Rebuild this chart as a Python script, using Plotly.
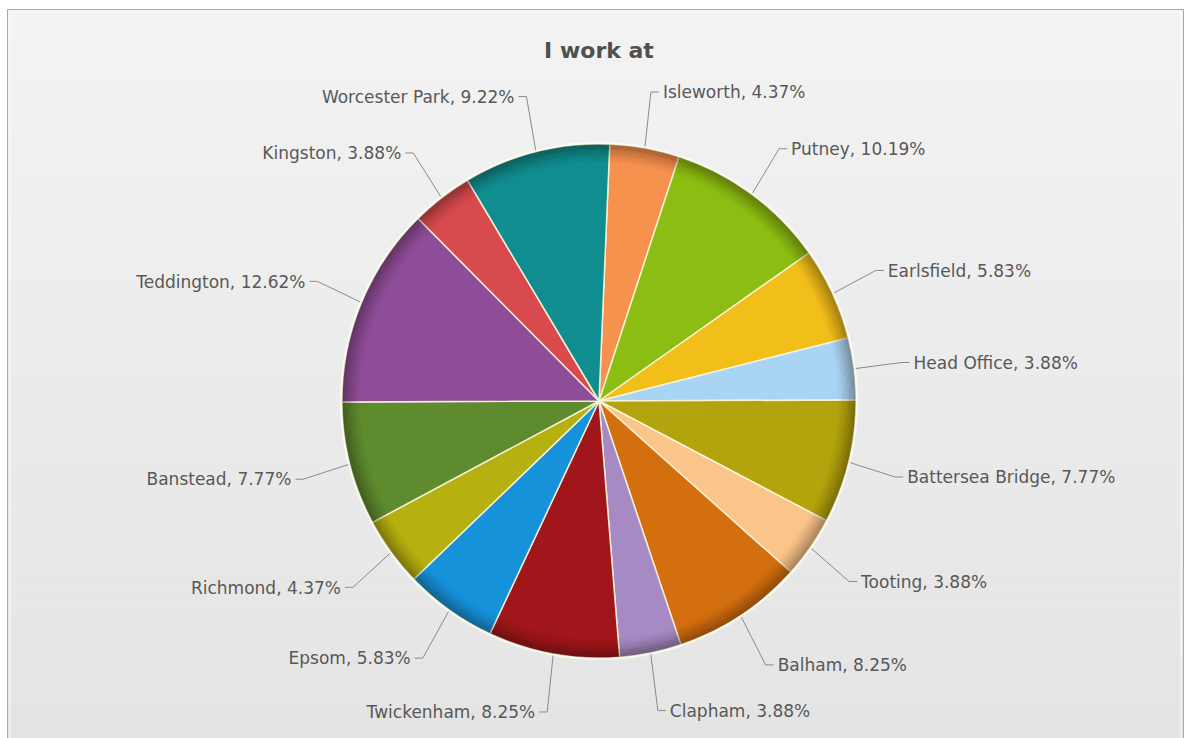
import numpy as np
import plotly.graph_objects as go

# Share of staff by work location (percent), listed clockwise from 12 o'clock
locations = [
    "Isleworth", "Putney", "Earlsfield", "Head Office", "Battersea Bridge",
    "Tooting", "Balham", "Clapham", "Twickenham", "Epsom", "Richmond",
    "Banstead", "Teddington", "Kingston", "Worcester Park",
]
shares = [4.37, 10.19, 5.83, 3.88, 7.77, 3.88, 8.25, 3.88, 8.25, 5.83, 4.37,
          7.77, 12.62, 3.88, 9.22]
slice_colors = [
    "#F7914E", "#8CBD12", "#F2BE1A", "#AAD4F4", "#B3A30D", "#FBC58A",
    "#D46F10", "#A78AC4", "#A0161A", "#1592DA", "#B6B010", "#5E8B2E",
    "#8F4D99", "#D74A4E", "#0F8D8F",
]

W, H = 1184, 738
CX, CY, RAD = 599, 401, 257      # pie centre and radius in pixels
LABEL_RX, LABEL_RY = 308, 315    # ellipse on which the labels sit
ROT = 2.4                        # start angle, degrees clockwise from top
TEXT_COLOR = "#585858"
FONT = "DejaVu Sans"


def px_x(x):
    return x / W


def px_y(y):
    return 1 - y / H


fig = go.Figure()

fig.add_trace(go.Pie(
    labels=locations,
    values=shares,
    sort=False,
    direction="clockwise",
    rotation=ROT,
    marker=dict(colors=slice_colors,
                line=dict(color="rgba(250,247,222,0.9)", width=1.5)),
    textinfo="none",
    hoverinfo="label+percent",
    showlegend=False,
    domain=dict(x=[px_x(CX - RAD), px_x(CX + RAD)],
                y=[px_y(CY + RAD), px_y(CY - RAD)]),
))

# Leader lines and outside labels, placed from each slice's mid angle
vals = np.array(shares, dtype=float)
cum = np.cumsum(vals) - vals / 2
mid = np.radians(cum / vals.sum() * 360 + ROT)

lx, ly = [], []
tx, ty, tpos, texts = [], [], [], []
for name, v, a in zip(locations, shares, mid):
    s, c = np.sin(a), np.cos(a)
    side = 1 if s >= 0 else -1
    ex, ey = CX + RAD * s, CY - RAD * c
    anchor_x = CX + LABEL_RX * s + side * 9
    anchor_y = CY - LABEL_RY * c + 3
    bx = anchor_x - side * 12
    lx += [ex, bx, anchor_x - side * 4, None]
    ly += [ey, anchor_y - 2, anchor_y - 2, None]
    tx.append(anchor_x)
    ty.append(anchor_y)
    tpos.append("middle right" if side > 0 else "middle left")
    texts.append(f"{name}, {v:.2f}%")

fig.add_trace(go.Scatter(
    x=lx, y=ly, mode="lines",
    line=dict(color="#8a8a8a", width=1),
    hoverinfo="skip", showlegend=False,
))
fig.add_trace(go.Scatter(
    x=tx, y=ty, mode="text", text=texts, textposition=tpos,
    textfont=dict(family=FONT, size=17, color=TEXT_COLOR),
    hoverinfo="skip", showlegend=False,
))

shapes = []

# Soft vertical gradient for the chart panel
n_bands = 48
top, bottom = 9, H
for i in range(n_bands):
    y0 = top + (bottom - top) * i / n_bands
    y1 = top + (bottom - top) * (i + 1) / n_bands + 0.5
    g = int(round(243 - (243 - 228) * (i + 0.5) / n_bands))
    shapes.append(dict(type="rect", xref="paper", yref="paper", layer="below",
                       x0=px_x(7), x1=1.0, y0=px_y(y1), y1=px_y(y0),
                       line=dict(width=0), fillcolor=f"rgb({g},{g},{g})"))

# Panel border with a faint inner highlight
shapes.append(dict(type="rect", xref="paper", yref="paper", layer="below",
                   x0=px_x(7.5), x1=px_x(1183.5), y0=px_y(745), y1=px_y(9.5),
                   line=dict(color="#a9a9a9", width=1)))
shapes.append(dict(type="rect", xref="paper", yref="paper", layer="below",
                   x0=px_x(10), x1=px_x(1181), y0=px_y(745), y1=px_y(12),
                   line=dict(color="rgba(255,255,255,0.8)", width=1)))


def ring(rr, color, width):
    return dict(type="circle", xref="paper", yref="paper", layer="above",
                x0=px_x(CX - rr), x1=px_x(CX + rr),
                y0=px_y(CY + rr), y1=px_y(CY - rr),
                line=dict(color=color, width=width))


# Bevel: darken the rim of the pie, then a pale glow just outside it
steps = 16
for k in range(steps):
    rr = RAD - 1 - k * 1.2
    alpha = 0.30 * (1 - k / steps) ** 1.5
    shapes.append(ring(rr, f"rgba(20,10,0,{alpha:.3f})", 1.5))
shapes.append(ring(RAD + 1.2, "rgba(255,255,245,0.75)", 1.6))

fig.update_layout(
    width=W, height=H,
    margin=dict(l=0, r=0, t=0, b=0),
    paper_bgcolor="#ffffff",
    plot_bgcolor="rgba(0,0,0,0)",
    xaxis=dict(range=[0, W], visible=False, fixedrange=True),
    yaxis=dict(range=[H, 0], visible=False, fixedrange=True),
    shapes=shapes,
    title=dict(text="I work at", x=px_x(CX), y=px_y(50),
               xref="paper", yref="paper", xanchor="center", yanchor="middle",
               font=dict(family=FONT, size=22, color="#505050", weight="bold")),
    font=dict(family=FONT, color=TEXT_COLOR),
)

fig.write_html("out.html")
